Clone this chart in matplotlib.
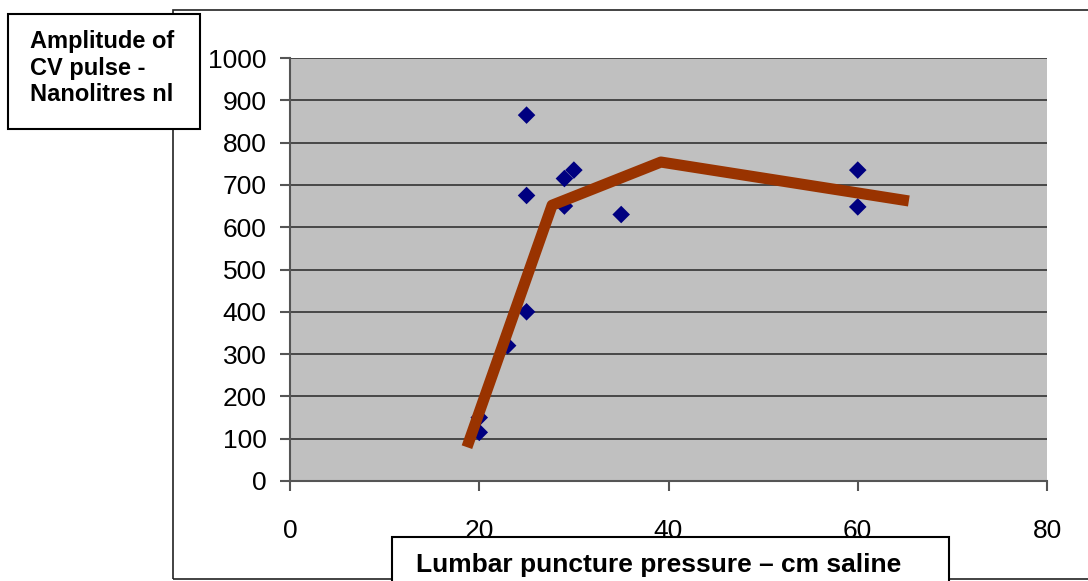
import matplotlib
matplotlib.use("Agg")
import matplotlib.pyplot as plt
from matplotlib.patches import Rectangle

plt.rcParams['font.family'] = ['Liberation Sans', 'DejaVu Sans']

# Data
pressure = [25, 30, 29, 25, 29, 35, 25, 23, 20, 20, 60, 60]
amplitude = [865, 735, 715, 675, 650, 630, 400, 320, 150, 115, 735, 648]
trend_x = [18.7, 27.7, 39.2, 65.4]
trend_y = [80, 652, 754, 662]
xticks = [0, 20, 40, 60, 80]
yticks = list(range(0, 1001, 100))

W, H = 1088, 581
fig = plt.figure(figsize=(W / 100, H / 100), dpi=100)

# plot area in pixels: left 290, right 1047, top 58, bottom 481
L, R, T, B = 290, 1047, 58, 481
ax = fig.add_axes([L / W, (H - B) / H, (R - L) / W, (B - T) / H])
ax.set_facecolor('#C0C0C0')
ax.set_xlim(0, 80)
ax.set_ylim(0, 1000)
ax.set_xticks(xticks)
ax.set_yticks(yticks)
ax.yaxis.grid(True, color='#333333', linewidth=1.2)
ax.set_axisbelow(True)
for s in ['top', 'right']:
    ax.spines[s].set_visible(False)
for s in ['left', 'bottom']:
    ax.spines[s].set_color('#555555')
    ax.spines[s].set_linewidth(1.5)
ax.tick_params(axis='both', direction='out', length=7, width=1.5, color='#555555',
               labelsize=19)
ax.tick_params(axis='y', pad=10)
ax.tick_params(axis='x', pad=20)

ax.scatter(pressure, amplitude, marker='D', s=80, color='#000080', zorder=3,
           edgecolors='none')
ax.plot(trend_x, trend_y, color='#993300', linewidth=8, zorder=4,
        solid_capstyle='butt')

# outer chart frame
fig.patches.append(Rectangle((173 / W, (H - 579) / H), 1.0, (579 - 10) / H,
                             transform=fig.transFigure, fill=False,
                             edgecolor='#222222', linewidth=1.2, zorder=0))

# y label box
fig.patches.append(Rectangle((8 / W, (H - 129) / H), (200 - 8) / W, (129 - 14) / H,
                             transform=fig.transFigure, facecolor='white',
                             edgecolor='black', linewidth=1.5, zorder=5))
fig.text(30 / W, (H - 68) / H, "Amplitude of\nCV pulse -\nNanolitres nl",
         ha='left', va='center', fontsize=17, fontweight='bold',
         linespacing=1.2, zorder=6)

# x label box
fig.patches.append(Rectangle((392 / W, -0.05), (949 - 392) / W, (H - 537) / H + 0.05,
                             transform=fig.transFigure, facecolor='white',
                             edgecolor='black', linewidth=1.5, zorder=5))
fig.text(659 / W, (H - 565) / H, "Lumbar puncture pressure \u2013 cm saline",
         ha='center', va='center', fontsize=19, fontweight='bold', zorder=6)

fig.savefig("out.png", dpi=100)
